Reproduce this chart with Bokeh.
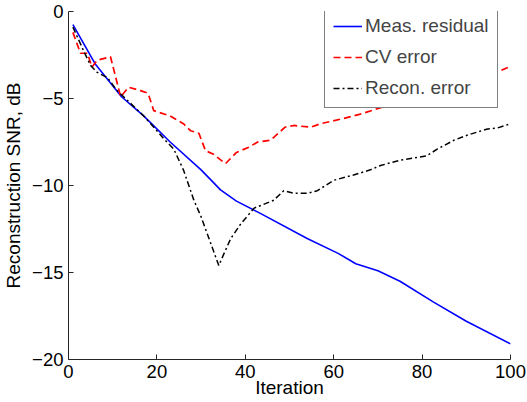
from bokeh.plotting import figure
from bokeh.models import FixedTicker, Legend, LegendItem
from bokeh.embed import file_html
from bokeh.resources import INLINE

meas_x = [1, 6, 12, 17, 23, 30, 34.4, 38, 43.4, 54, 61, 65, 70, 75, 82.6, 90, 100]
meas_y = [-0.75, -3.0, -4.9, -6.0, -7.5, -9.1, -10.25, -10.9, -11.6, -13.05, -13.9, -14.5, -14.9, -15.5, -16.7, -17.8, -19.1]

cv_x = [1, 2.7, 4.3, 5.3, 6.5, 8.8, 9.5, 11.8, 13.6, 16.3, 18, 19.3, 23, 26, 27.6, 29.5, 31, 32.8, 35.5, 38, 40.8, 42.8, 45.7, 49, 51, 54.8, 57, 62.2, 66, 71, 75, 80, 85, 90, 95, 97.7, 100]
cv_y = [-1.2, -2.4, -2.4, -3.2, -2.8, -2.65, -2.6, -4.9, -4.35, -4.55, -4.7, -5.7, -6.0, -6.45, -6.85, -7.0, -8.0, -8.2, -8.75, -8.1, -7.8, -7.5, -7.4, -6.65, -6.55, -6.65, -6.45, -6.15, -5.9, -5.5, -5.3, -5.0, -4.6, -4.2, -3.7, -3.4, -3.15]

rec_x = [1, 3.4, 5, 6.5, 8.8, 11, 13.3, 17, 19.3, 21.5, 23.8, 26, 28.3, 30, 32, 34, 35.2, 36.7, 39, 42, 46.4, 48.7, 51, 54, 56.3, 60, 64.5, 68.3, 70.6, 75, 81, 83.5, 87.2, 90.3, 94.8, 97, 100]
rec_y = [-0.9, -2.25, -3.1, -3.5, -3.8, -4.55, -5.1, -6.0, -6.65, -7.3, -7.9, -9.1, -10.8, -11.8, -13.2, -14.6, -13.9, -13.05, -12.2, -11.3, -10.85, -10.3, -10.45, -10.45, -10.3, -9.7, -9.4, -9.1, -8.85, -8.55, -8.3, -7.9, -7.4, -7.1, -6.75, -6.7, -6.45]

x_ticks = [0, 20, 40, 60, 80, 100]
y_ticks = [-20, -15, -10, -5, 0]
y_tick_labels = ["\u221220", "\u221215", "\u221210", "\u22125", "0"]

FONT = "Liberation Sans"

p = figure(width=527, height=402, output_backend="svg", toolbar_location=None,
           x_range=(0, 100), y_range=(-20, 0),
           min_border_left=68, min_border_right=17, min_border_top=11, min_border_bottom=43)
p.outline_line_color = None
p.xgrid.visible = False
p.ygrid.visible = False

r1 = p.line(meas_x, meas_y, line_color="#0000ff", line_width=1.6)
r2 = p.line(cv_x, cv_y, line_color="#ff0000", line_width=1.7, line_dash="7 4")
r3 = p.line(rec_x, rec_y, line_color="#000000", line_width=1.5, line_dash="6 3 2 3")

for ax in (p.xaxis[0], p.yaxis[0]):
    ax.major_tick_in = 5
    ax.major_tick_out = 0
    ax.minor_tick_in = 0
    ax.minor_tick_out = 0
    ax.axis_line_color = "#262626"
    ax.major_tick_line_color = "#262626"
    ax.major_label_text_font = FONT
    ax.major_label_text_font_size = "18.5px"
    ax.major_label_text_color = "black"
    ax.axis_label_text_font = FONT
    ax.axis_label_text_font_size = "19px"
    ax.axis_label_text_font_style = "normal"
    ax.axis_label_text_color = "black"

p.xaxis[0].ticker = FixedTicker(ticks=x_ticks)
p.yaxis[0].ticker = FixedTicker(ticks=y_ticks)
p.yaxis[0].major_label_overrides = {t: l for t, l in zip(y_ticks, y_tick_labels)}
p.xaxis[0].axis_label = "Iteration"
p.yaxis[0].axis_label = "Reconstruction SNR, dB"
p.xaxis[0].major_label_standoff = 5
p.xaxis[0].axis_label_standoff = -4
p.yaxis[0].major_label_standoff = 5
p.yaxis[0].axis_label_standoff = 5

legend = Legend(items=[LegendItem(label="Meas. residual", renderers=[r1]),
                       LegendItem(label="CV error", renderers=[r2]),
                       LegendItem(label="Recon. error", renderers=[r3])],
                location=(256, 251))
legend.border_line_color = "black"
legend.border_line_width = 1
legend.background_fill_color = "white"
legend.background_fill_alpha = 1
legend.label_text_font = FONT
legend.label_text_font_size = "19px"
legend.glyph_width = 29
legend.glyph_height = 20
legend.spacing = 9
legend.padding = 8
legend.margin = 0
legend.label_standoff = 3
p.add_layout(legend, "center")

open("out.html", "w").write(file_html(p, INLINE))
